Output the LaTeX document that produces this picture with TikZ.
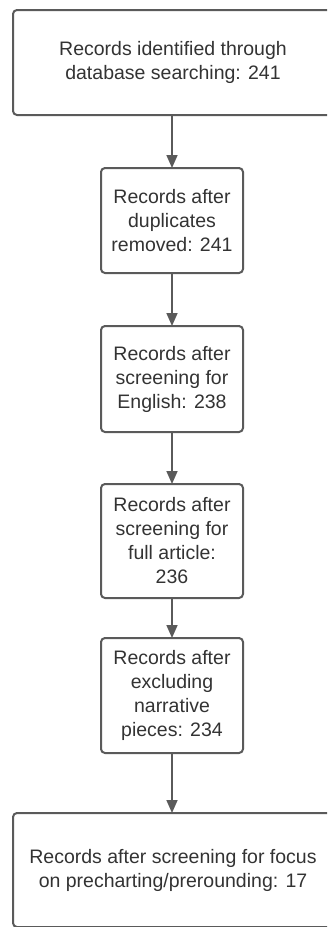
\documentclass[tikz,border=0pt]{standalone}
\usepackage{fontspec}
\setmainfont{Liberation Sans}
\usetikzlibrary{arrows.meta}
\definecolor{edgegray}{HTML}{5A5A5A}
\definecolor{txtgray}{HTML}{333333}
\tikzset{
  flowbox/.style={draw=edgegray, line width=2pt, rounded corners=4pt, fill=white,
    align=center, text=txtgray, inner sep=0pt, outer sep=0pt,
    font=\fontsize{19.5}{24}\selectfont},
  smallbox/.style={flowbox, minimum width=142pt},
  widebox/.style={flowbox, minimum width=320pt},
  flowarrow/.style={draw=edgegray, line width=1.6pt,
    -{Triangle[length=13pt,width=11pt]}}
}
\begin{document}
\begin{tikzpicture}[x=1pt,y=1pt]
\useasboundingbox (0,0) rectangle (327,-927);
\clip (0,0) rectangle (327,-927);
\node[widebox, minimum height=105pt] (n1) at (173,-62.5)
  {Records identified through\\database searching: 241};
\node[smallbox, minimum height=105pt] (n2) at (172,-220.5)
  {Records after\\duplicates\\removed: 241};
\node[smallbox, minimum height=106pt] (n3) at (172,-379)
  {Records after\\screening for\\English: 238};
\node[smallbox, minimum height=114pt] (n4) at (172,-541)
  {Records after\\screening for\\full article:\\236};
\node[smallbox, minimum height=115pt] (n5) at (172,-695.5)
  {Records after\\excluding\\narrative\\pieces: 234};
\node[widebox, minimum height=114pt] (n6) at (173,-870)
  {Records after screening for focus\\on precharting/prerounding: 17};
\draw[flowarrow] (n2.north |- n1.south) -- (n2.north);
\draw[flowarrow] (n2.south) -- (n3.north);
\draw[flowarrow] (n3.south) -- (n4.north);
\draw[flowarrow] (n4.south) -- (n5.north);
\draw[flowarrow] (n5.south) -- (n5.south |- n6.north);
\end{tikzpicture}
\end{document}
